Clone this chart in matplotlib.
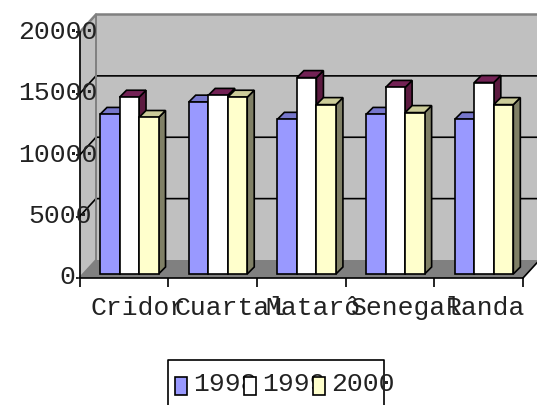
import matplotlib
matplotlib.use("Agg")
import matplotlib.pyplot as plt
from matplotlib.patches import Polygon, Rectangle
from matplotlib.lines import Line2D
from matplotlib.transforms import blended_transform_factory

categorias = ["Cridor", "Cuartal", "Matarô", "Senegal", "Randa"]
series = ["1998", "1999", "2000"]
v1998 = [13000, 14000, 12600, 13000, 12600]
v1999 = [14400, 14550, 16000, 15200, 15600]
v2000 = [12750, 14400, 13800, 13150, 13800]
y_ticks = [0, 5000, 10000, 15000, 20000]

W, H = 537, 405
X0, X1, Y0, YT = 79.5, 523, 278, 32.5  # plano frontal em pixels
DX, DY = 16.5, 18  # profundidade das paredes
BX, BY = 7, 7  # profundidade das barras
LW = 1.2

cores = ["#9999FF", "#FFFFFF", "#FFFFCC"]
cores_topo = ["#7777CC", "#732255", "#CCCC99"]
cores_lado = ["#666699", "#5C1A40", "#808066"]

fig = plt.figure(figsize=(W / 100, H / 100), dpi=100)
ax = fig.add_axes([X0 / W, 1 - Y0 / H, (X1 - X0) / W, (Y0 - YT) / H])
ax.set_xlim(0, 5)
ax.set_ylim(0, 20000)
ax.patch.set_visible(False)

ux = 5 / (X1 - X0)  # unidades por pixel
uy = 20000 / (Y0 - YT)
dx, dy = DX * ux, DY * uy

# paredes e chao
ax.add_patch(Polygon([(0, 0), (dx, dy), (dx, 20000 + dy), (0, 20000)], fc="#C0C0C0", ec="none", clip_on=False, zorder=1))
ax.add_patch(Rectangle((dx, dy), 5, 20000, fc="#C0C0C0", ec="none", clip_on=False, zorder=1))
ax.add_patch(Polygon([(0, 0), (5, 0), (5 + dx, dy), (dx, dy)], fc="#808080", ec="none", clip_on=False, zorder=1))
for v in y_ticks[1:-1]:
    ax.plot([0, dx, 5 + dx], [v, v + dy, v + dy], color="black", lw=LW, clip_on=False, zorder=2)
ax.plot([0, dx, dx], [0, dy, 20000 + dy], color="#808080", lw=1.4, clip_on=False, zorder=2)
ax.plot([0, dx, 5 + dx], [20000, 20000 + dy, 20000 + dy], color="#808080", lw=1.8, clip_on=False, zorder=2)
ax.plot([5, 5 + dx], [0, dy], color="black", lw=LW, clip_on=False, zorder=2)

# barras
larg = 0.22
base = 4 * uy
bx, by = BX * ux, BY * uy
for i in range(len(categorias)):
    for j, vals in enumerate([v1998, v1999, v2000]):
        x = i + 0.231 + j * larg
        topo = vals[i] + base
        z = 3 + i + j * 0.1
        ax.add_patch(Polygon([(x + larg, base), (x + larg + bx, base + by), (x + larg + bx, topo + by), (x + larg, topo)],
                             fc=cores_lado[j], ec="black", lw=LW, clip_on=False, zorder=z))
        ax.add_patch(Polygon([(x, topo), (x + bx, topo + by), (x + larg + bx, topo + by), (x + larg, topo)],
                             fc=cores_topo[j], ec="black", lw=LW, clip_on=False, zorder=z))
        ax.bar(x, vals[i], larg, bottom=base, align="edge", color=cores[j], edgecolor="black", lw=LW, clip_on=False, zorder=z + 0.01)

# eixos
for s in ["top", "right"]:
    ax.spines[s].set_visible(False)
for s in ["left", "bottom"]:
    ax.spines[s].set_zorder(20)
    ax.spines[s].set_linewidth(LW)
ax.set_xticks(range(6))
ax.set_yticks(y_ticks)
ax.set_xticklabels([])
ax.set_yticklabels([])
ax.tick_params(axis="x", length=6.5, width=LW)
ax.tick_params(axis="y", length=3, width=LW)

# textos
fonte = dict(family="Liberation Mono", fontsize=19, color="#222222")
xs_cat = [91, 174, 265, 351, 446]
for nome, xp in zip(categorias, xs_cat):
    fig.text(xp / W, 1 - 308 / H, nome, ha="left", va="center", **fonte)
trans_y = blended_transform_factory(fig.transFigure, ax.transData)
xs_y = [59, 28, 18, 18, 18]
for v, xp in zip(y_ticks, xs_y):
    fig.text(xp / W, v + 0.5 * uy, str(v), ha="left", va="center", transform=trans_y, **fonte)

# legenda (a caixa fica cortada na parte de baixo)
lx = [168, 168, 384, 384]
ly = [405, 360, 360, 405]
fig.add_artist(Line2D([p / W for p in lx], [1 - p / H for p in ly], color="black", lw=LW, zorder=2))
xs_leg = [175, 244, 313]
for nome, xp, cor in zip(series, xs_leg, cores):
    fig.text((xp + 18) / W, 1 - 384 / H, nome, ha="left", va="center", zorder=3, **fonte)
    fig.add_artist(Rectangle((xp / W, 1 - 395 / H), 12 / W, 18 / H, fc=cor, ec="black", lw=LW,
                             transform=fig.transFigure, zorder=4))

fig.savefig("out.png", dpi=100)
